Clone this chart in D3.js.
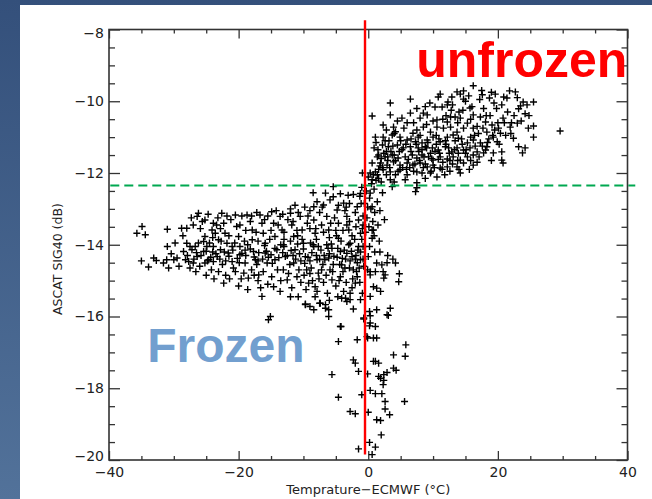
<!DOCTYPE html>
<html>
<head>
<meta charset="utf-8">
<script src="https://cdn.jsdelivr.net/npm/d3@7"></script>
<style>
  html, body { margin: 0; padding: 0; background: #fff; }
  #visualization { width: 652px; height: 499px; overflow: hidden; }
</style>
</head>
<body>
<div id="visualization"></div>
<script>
// axis ticks
const xTicks = [-40, -20, 0, 20, 40];
const xMinorTicks = [-35, -30, -25, -15, -10, -5, 5, 10, 15, 25, 30, 35];
const yTicks = [-20, -18, -16, -14, -12, -10, -8];
const yMinorTicks = [-19.5, -19, -18.5, -17.5, -17, -16.5, -15.5, -15, -14.5,
  -13.5, -13, -12.5, -11.5, -11, -10.5, -9.5, -9, -8.5];

// reference lines
const thawTemp = -0.5;          // red vertical line
const sigmaThreshold = -12.35;  // green dashed line

// [temperature, sigma40]
const warmPoints = [
  [16.2,-9.57],[14.7,-9.71],[13.7,-9.74],[14.2,-9.80],[11.1,-9.80],[10.8,-9.88],[12.9,-9.88],[17.6,-9.82],
  [18.7,-9.91],[19.6,-9.80],[20.9,-9.88],[21.8,-9.71],[22.7,-9.74],[21.4,-9.91],[14.7,-9.94],[6.5,-9.94],
  [12.3,-10.02],[12.2,-10.10],[11.4,-10.16],[10.3,-10.16],[3.4,-10.05],[23.9,-10.02],[25.5,-10.02],[23.5,-10.13],
  [24.5,-10.10],[23.2,-10.21],[15.7,-10.19],[24.2,-10.35],[0.6,-10.41],[3.4,-10.38],[6.5,-10.33],[5.2,-10.47],
  [8.5,-10.33],[9.1,-10.38],[8.0,-10.47],[10.6,-10.52],[12.7,-10.44],[13.4,-10.44],[14.2,-10.47],[12.2,-10.58],
  [16.2,-10.38],[17.3,-10.44],[18.1,-10.58],[20.8,-10.47],[19.1,-10.66],[21.9,-10.72],[23.0,-10.61],[24.7,-10.75],
  [25.5,-10.69],[29.6,-10.83],[25.5,-11.0],[22.4,-11.03],[20.4,-10.89],[19.3,-11.0],[18.3,-10.86],[16.2,-10.75],
  [15.3,-10.61],[14.7,-10.75],[13.7,-10.86],[12.7,-10.72],[11.6,-10.75],[10.6,-10.72],[9.6,-10.86],[8.5,-10.72],
  [7.5,-10.80],[6.9,-10.89],[2.3,-10.66],[3.9,-10.72],[1.1,-11.0],[2.3,-11.0],[3.7,-10.94],[4.9,-11.0],
  [6.0,-11.08],[7.3,-11.13],[8.3,-11.16],[9.1,-11.08],[10.0,-11.0],[11.1,-11.13],[12.2,-11.0],[13.1,-10.94],
  [13.9,-11.03],[15.3,-11.16],[16.2,-11.08],[17.3,-11.16],[18.3,-11.27],[19.9,-11.13],[23.2,-11.27],[23.8,-11.44],
  [24.2,-11.30],[2.2,-11.22],[3.1,-11.27],[4.5,-11.22],[5.4,-11.30],[6.5,-11.27],[7.7,-11.30],[8.8,-11.27],
  [9.9,-11.30],[10.8,-11.36],[11.9,-11.27],[12.9,-11.41],[13.7,-11.30],[14.7,-11.36],[15.7,-11.30],[16.8,-11.41],
  [18.1,-11.36],[19.3,-11.44],[20.6,-11.41],[1.6,-11.50],[2.6,-11.55],[3.7,-11.50],[4.6,-11.58],[5.7,-11.55],
  [6.8,-11.50],[7.5,-11.58],[8.3,-11.50],[9.3,-11.55],[10.0,-11.64],[11.1,-11.55],[12.2,-11.61],[13.1,-11.55],
  [14.2,-11.64],[15.3,-11.55],[16.2,-11.50],[17.8,-11.44],[0.6,-11.72],[1.9,-11.72],[2.9,-11.78],[3.9,-11.69],
  [4.9,-11.78],[6.0,-11.72],[6.9,-11.78],[8.0,-11.72],[9.1,-11.83],[10.0,-11.78],[11.1,-11.86],[12.2,-11.83],
  [13.7,-11.83],[14.7,-11.72],[16.2,-11.78],[20.6,-11.64],[20.8,-11.72],[1.1,-11.97],[2.3,-11.91],[3.4,-11.97],
  [4.9,-11.91],[7.5,-11.97],[8.3,-12.0],[9.6,-12.0],[10.6,-12.11],[14.2,-12.0],[-0.9,-12.0],[0.0,-12.11],
  [0.6,-12.19],[1.4,-12.05],[3.4,-12.19],[5.7,-12.19],[7.5,-12.27],[3.7,-12.38],[7.5,-12.41],[7.3,-12.52]
];

const warmCore = [
  [1.5,-11.35],[2.0,-11.60],[2.8,-11.40],[3.3,-11.85],[3.8,-11.25],[4.2,-11.65],[4.8,-11.40],[5.3,-11.85],
  [5.8,-11.20],[6.2,-11.62],[6.6,-11.40],[7.0,-11.95],[7.4,-11.20],[7.9,-11.65],[8.3,-11.35],[8.8,-11.75],
  [9.2,-11.15],[9.6,-11.45],[10.2,-11.85],[10.5,-11.20],[11.0,-11.45],[11.5,-11.70],[12.0,-11.20],[12.5,-11.45],
  [13.0,-11.75],[13.4,-11.10],[13.9,-11.45],[14.5,-11.20],[15.0,-11.45],[15.8,-11.00],[16.5,-11.25],[17.0,-10.90],
  [17.6,-11.25],[18.6,-11.05],[19.5,-10.80],[20.2,-11.20],[21.0,-10.60],[22.0,-10.90],[2.6,-11.10],[4.0,-10.90],
  [5.5,-10.75],[7.0,-10.60],[8.0,-10.95],[9.0,-10.65],[10.5,-10.95],[11.5,-10.50],[12.8,-10.25],[13.8,-10.60],
  [14.6,-10.25],[15.8,-10.50],[16.8,-10.70],[17.8,-10.20],[18.8,-10.40],[19.8,-10.20],[20.0,-10.60],[21.5,-10.30],
  [22.5,-10.40],[6.0,-12.05],[4.2,-12.05],[2.0,-12.25],[8.8,-12.15],[11.8,-12.05],[12.6,-11.95],[15.6,-11.90],
  [16.8,-11.70],[19.0,-11.65],[17.2,-9.95],[15.5,-9.85],[13.0,-10.10],[9.5,-10.05],[7.5,-10.20],[4.5,-10.55],
  [2.8,-10.80],[1.4,-11.55],[0.9,-11.30],[1.8,-11.80],[3.0,-11.65],[5.0,-11.10],[6.4,-11.85],[8.6,-11.55],
  [10.8,-11.62],[12.4,-11.30],[14.0,-11.90],[3.5,-11.40],[7.8,-11.40],[9.8,-11.60],
  [1.2,-11.15],[2.4,-11.45],[3.2,-11.10],[4.0,-11.50],[4.6,-11.95],[5.2,-11.35],[5.9,-11.90],[6.6,-11.05],
  [7.2,-11.75],[7.7,-11.00],[8.5,-11.85],[9.0,-11.30],[9.7,-11.95],[10.3,-11.40],[10.9,-11.05],[11.4,-11.90],
  [11.9,-11.10],[12.6,-11.65],[13.3,-11.35],[13.8,-11.65],[14.4,-11.05],[15.1,-11.35],[15.8,-11.65],[16.4,-10.95],
  [17.1,-11.55],[17.7,-10.75],[18.4,-11.15],[19.2,-10.95],[20.1,-10.75],[21.2,-10.95],[22.1,-10.60],[18.2,-10.40],
  [16.0,-10.15],[14.0,-10.30],[12.0,-10.40],[10.0,-10.55],[8.8,-10.15],[6.0,-10.60],[4.2,-10.85],[3.0,-11.55],
  [2.2,-11.85],[0.8,-12.05],[1.6,-12.15],[2.8,-12.05],[4.0,-12.25],[19.4,-10.05],[20.6,-10.10],[23.6,-10.55],
  [24.8,-10.40],[23.0,-9.90],[19.0,-9.75],[17.5,-9.70],[15.0,-10.00]
];

const coldPoints = [
  [-35.7,-13.68],[-34.9,-13.49],[-34.4,-13.72],[-35.0,-14.45],[-33.9,-14.62],[-33.1,-14.37],[-32.7,-14.44],[-31.6,-14.51],
  [-31.1,-14.42],[-30.8,-14.65],[-31.0,-14.05],[-31.0,-13.57],[-30.0,-14.42],[-29.5,-14.37],[-28.8,-13.54],[-28.0,-13.54],
  [-28.5,-14.19],[-28.0,-13.96],[-27.5,-14.05],[-27.2,-14.14],[-26.7,-14.05],[-28.2,-14.42],[-27.7,-14.47],[-27.5,-14.65],
  [-27.0,-14.51],[-26.4,-14.33],[-26.2,-13.12],[-26.4,-13.21],[-25.2,-13.31],[-25.2,-13.77],[-25.4,-13.91],[-24.9,-14.05],
  [-25.4,-14.19],[-24.6,-14.42],[-25.2,-14.51],[-24.1,-13.59],[-23.9,-13.40],[-23.4,-13.45],[-23.6,-13.68],[-23.1,-13.86],
  [-22.8,-14.14],[-23.3,-14.33],[-23.9,-14.47],[-22.6,-13.12],[-22.3,-13.40],[-22.1,-13.68],[-21.8,-13.96],[-21.6,-14.23],
  [-23.1,-14.75],[-22.3,-15.07],[-21.0,-14.47],[-20.8,-14.65],[-20.5,-13.17],[-20.3,-13.49],[-20.0,-13.77],[-19.8,-14.05],
  [-19.8,-14.28],[-19.2,-14.79],[-19.0,-14.51],[-18.5,-14.93],[-18.7,-13.17],[-18.2,-13.35],[-17.9,-13.59],[-17.9,-13.86],
  [-17.7,-14.19],[-17.4,-14.42],[-16.9,-14.84],[-16.7,-13.17],[-16.4,-13.40],[-16.2,-13.68],[-15.9,-13.96],[-15.9,-14.23],
  [-15.6,-14.51],[-14.9,-13.08],[-14.6,-13.40],[-14.4,-13.77],[-14.1,-14.14],[-14.4,-14.42],[-14.9,-14.89],[-14.6,-15.17],
  [-16.4,-15.44],[-15.1,-16.0],[-15.4,-16.09],[-13.6,-13.21],[-13.3,-13.59],[-13.1,-14.0],[-12.8,-14.33],[-13.1,-14.70],
  [-12.5,-14.98],[-12.0,-13.12],[-11.8,-13.45],[-11.5,-13.77],[-11.3,-14.14],[-11.5,-14.51],[-11.0,-14.89],[-10.5,-13.21],
  [-10.2,-13.59],[-10.0,-13.96],[-9.7,-14.33],[-9.5,-14.70],[-9.2,-15.07],[-9.7,-15.67],[-9.0,-15.72],[-8.4,-12.94],
  [-8.4,-13.31],[-8.2,-13.68],[-8.4,-14.05],[-7.9,-14.42],[-7.7,-14.79],[-8.2,-15.17],[-7.4,-15.63],[-6.6,-15.77],
  [-6.1,-16.0],[-6.6,-12.56],[-5.4,-12.38],[-6.9,-12.89],[-6.4,-13.21],[-6.1,-13.59],[-6.4,-14.0],[-6.1,-14.37],
  [-5.9,-14.70],[-5.6,-14.98],[-5.4,-12.66],[-4.8,-13.03],[-4.6,-13.40],[-4.6,-13.82],[-4.3,-14.19],[-4.1,-14.56],
  [-4.3,-14.89],[-3.8,-15.30],[-3.5,-15.49],[-2.8,-15.35],[-3.8,-12.84],[-3.3,-13.21],[-3.0,-13.59],[-2.8,-13.96],
  [-2.5,-14.33],[-2.3,-14.70],[-2.0,-15.07],[-1.7,-12.94],[-1.5,-13.31],[-1.2,-13.68],[-1.5,-14.05],[-1.2,-14.42],
  [-1.7,-14.89],[0.3,-12.56],[0.6,-12.94],[0.8,-13.59],[0.6,-13.82],[0.0,-14.33],[0.3,-14.75],[-8.5,-12.55],
  [-4.3,-12.58],[-3.1,-12.62],[-1.2,-12.57]
];

const coldCore = [
  [-26.5,-14.22],[-25.8,-14.30],[-25.0,-14.18],[-24.3,-14.35],[-23.5,-14.25],[-22.9,-14.40],[-22.2,-14.20],[-21.5,-14.32],
  [-20.9,-14.15],[-20.2,-14.38],[-19.5,-14.24],[-18.9,-14.30],[-18.2,-14.12],[-17.6,-14.34],[-16.9,-14.22],[-16.3,-14.40],
  [-15.7,-14.18],[-15.0,-14.28],[-14.4,-14.10],[-13.8,-14.36],[-13.2,-14.22],[-12.5,-14.30],[-11.9,-14.16],[-11.2,-14.40],
  [-10.6,-14.25],[-10.0,-14.12],[-9.3,-14.35],[-8.7,-14.22],[-8.0,-14.30],[-7.3,-14.15],[-6.7,-14.42],[-6.0,-14.25],
  [-5.3,-14.32],[-4.7,-14.10],[-4.0,-14.38],[-3.3,-14.24],[-2.6,-14.18],[-1.9,-14.30],[-1.2,-14.20],
  [-24.8,-14.45],[-23.9,-14.05],[-22.5,-14.55],[-21.0,-14.05],[-19.9,-14.50],[-18.6,-14.00],[-17.2,-14.55],[-16.0,-14.02],
  [-14.8,-14.52],[-13.5,-14.00],[-12.1,-14.55],[-10.9,-13.98],[-9.8,-14.52],[-8.5,-14.00],[-7.0,-14.55],[-5.7,-13.98],
  [-4.4,-14.55],[-3.0,-14.00],[-1.7,-14.50],[-0.8,-14.05],
  [-27.3,-13.25],[-25.9,-13.55],[-24.7,-13.15],[-24.0,-13.80],[-22.8,-13.55],[-21.2,-13.30],[-21.5,-13.75],[-19.8,-13.45],
  [-19.1,-13.90],[-18.0,-13.20],[-17.3,-13.65],[-16.0,-13.30],[-15.2,-13.85],[-13.9,-13.45],[-13.0,-13.85],[-12.4,-13.30],
  [-11.0,-13.60],[-10.2,-13.85],[-9.3,-13.20],[-9.0,-13.55],[-8.0,-13.85],[-7.5,-13.10],[-7.2,-13.45],[-6.0,-13.80],
  [-5.2,-13.25],[-5.0,-13.60],[-4.2,-13.90],[-3.6,-13.05],[-3.3,-13.45],[-2.5,-13.75],[-2.0,-13.10],[-1.9,-13.50],
  [-1.0,-13.85],[-0.8,-13.20],[-12.0,-13.00],[-10.8,-13.10],[-9.8,-12.95],[-7.9,-12.80],[-5.9,-12.75],[-4.6,-12.90],
  [-2.9,-12.85],
  [-26.0,-14.60],[-24.2,-14.70],[-22.0,-14.85],[-20.5,-14.75],[-19.6,-14.95],[-18.0,-14.70],[-17.0,-15.00],[-16.2,-14.75],
  [-15.5,-15.10],[-14.0,-14.70],[-13.5,-15.00],[-12.3,-14.80],[-11.8,-15.20],[-10.7,-14.70],[-10.4,-15.05],[-9.6,-15.25],
  [-9.0,-14.80],[-8.6,-15.00],[-7.9,-15.30],[-7.2,-14.70],[-6.9,-15.05],[-6.3,-15.35],[-5.5,-14.75],[-5.0,-15.15],
  [-4.7,-15.45],[-3.9,-14.75],[-3.4,-15.05],[-2.9,-14.65],[-2.5,-15.20],[-1.8,-14.75],[-1.3,-15.05],[-0.9,-15.35],
  [-0.7,-14.60],
  [-11.6,-13.35],[-10.9,-13.75],[-10.4,-14.45],[-9.9,-14.85],[-9.4,-13.40],[-8.9,-13.95],[-8.8,-14.65],[-8.1,-13.55],
  [-7.7,-14.05],[-7.6,-14.95],[-6.9,-13.65],[-6.8,-14.30],[-6.5,-14.85],[-5.8,-13.40],[-5.6,-14.10],[-5.4,-14.55],
  [-4.9,-13.75],[-4.8,-14.35],[-4.5,-15.00],[-3.9,-13.60],[-3.7,-14.15],[-3.6,-14.65],[-2.9,-13.35],[-2.8,-14.45],
  [-2.4,-14.95],[-2.1,-13.85],[-1.6,-14.15],[-1.4,-14.65],[-0.9,-13.55],[-0.8,-14.40],[-1.1,-12.85],[-2.3,-12.60],
  [-3.4,-12.95],[-7.1,-12.95],[-9.0,-13.05],[-11.3,-12.90],[-13.2,-13.15],[-14.2,-13.05],[-15.5,-13.20],[-17.2,-13.10],
  [-19.5,-13.20],[-21.8,-13.20],[-23.2,-13.25],[-25.6,-13.35],[-27.0,-13.45],[-28.6,-13.75],[-29.8,-13.95],[-30.4,-14.25],
  [-29.2,-14.60],[-26.6,-14.75],[-25.0,-14.85],[-23.8,-14.95],[-21.4,-14.95],[-20.0,-15.15],[-18.6,-15.25],[-17.6,-14.85],
  [-16.6,-15.20],[-13.6,-15.30],[-12.0,-15.45],[-10.8,-15.45],[-8.2,-15.45],[-6.0,-15.55],[-24.5,-13.95],[-22.7,-13.90],
  [-20.6,-13.95],[-18.9,-13.60],[-17.0,-13.90],[-15.0,-13.60],[-13.0,-13.65],[-12.0,-13.90],[-26.2,-13.95],[-27.9,-14.30],
  [-26.9,-14.40],[-24.0,-14.20],[-22.0,-14.45],[-19.0,-14.15],[-17.0,-14.45],[-15.4,-14.35],[-13.0,-14.05],[-11.6,-14.30],
  [-9.0,-14.45],[-7.5,-14.40],[-6.2,-14.10],[-3.5,-14.40],[-2.0,-14.40]
];

// points hugging the 0 °C line
const thawEdge = [
  [-1.0,-12.40],[-0.3,-12.50],[0.2,-12.70],[0.9,-12.45],[1.4,-12.80],[-0.6,-12.85],[0.4,-13.00],[1.0,-13.10],
  [-0.2,-13.25],[0.7,-13.35],[1.5,-13.45],[0.1,-13.50],[-0.4,-13.65],[0.9,-13.75],[1.8,-13.05],[2.2,-12.55],
  [-1.3,-12.65],[0.5,-12.30],[1.2,-12.20],[-0.1,-12.95],[0.6,-13.60],[1.7,-13.90],[0.2,-14.05],[1.0,-14.20],
  [2.5,-13.30],[-0.8,-13.45],[0.3,-12.00],[1.6,-11.90],[1.8,-14.20],[3.0,-14.30],[3.8,-14.40],[2.3,-14.75]
];

const tailPoints = [
  [-0.7,-16.04],[0.3,-16.18],[1.1,-16.28],[-4.3,-16.28],[-4.6,-16.70],[-1.7,-16.65],[-0.2,-16.56],[0.8,-16.60],
  [-2.3,-17.21],[-2.0,-17.30],[-1.5,-17.53],[0.8,-17.25],[-5.6,-17.62],[-9.7,-15.65],[-8.4,-15.81],[-7.5,-15.63],
  [-6.6,-15.67],[-6.1,-15.81],[-4.2,-16.28],[-1.0,-18.18],[-4.6,-18.25],[-2.8,-18.65],[-2.0,-18.71],[-1.5,-19.69],
  [0.2,-19.51],[1.1,-19.64],[0.6,-19.85],[2.0,-19.30],[1.3,-18.88],[1.9,-18.90],[3.3,-18.74],[2.6,-18.58],
  [0.0,-18.67],[5.6,-18.37],[2.6,-18.37],[2.1,-18.15],[1.1,-18.15],[0.3,-18.06],[2.3,-17.90],[2.4,-17.78],
  [1.9,-17.72],[2.4,-17.62],[2.9,-17.56],[3.9,-17.44],[4.3,-17.50],[1.6,-17.67],[1.1,-17.25],[1.6,-17.30],
  [3.9,-17.07],[5.7,-17.11],[5.8,-16.79],[-0.1,-17.60],[-0.1,-16.60],[1.3,-16.60],[0.2,-16.26],[0.3,-15.98],
  [-0.7,-16.07],[1.3,-15.81],[2.9,-15.95],[3.4,-15.77],[3.1,-15.97],[0.2,-15.86],[-2.3,-15.79],[-3.3,-15.58],
  [-4.1,-15.49],[-2.8,-15.53],[-1.2,-15.53],[0.3,-15.44],[1.9,-15.30],[0.8,-15.17],[1.3,-15.21],[2.4,-14.93],
  [2.6,-14.84],[4.7,-15.03],[4.8,-14.81],[4.2,-14.51],[2.9,-14.50],[2.1,-14.56],[1.3,-14.51],[1.1,-14.75],
  [0.3,-14.84],[-0.1,-14.70]
];

function showScatter() {
  const W = 652, H = 499;
  const plot = { left: 109, right: 627.5, top: 29.5, bottom: 460 };

  const svg = d3.select('#visualization')
    .append('svg')
    .attr('width', W)
    .attr('height', H)
    .style('display', 'block');

  // slide background
  const grad = svg.append('defs').append('linearGradient')
    .attr('id', 'bg').attr('x1', 0).attr('y1', 0).attr('x2', 0).attr('y2', 1);
  grad.append('stop').attr('offset', '0%').attr('stop-color', '#34507b');
  grad.append('stop').attr('offset', '100%').attr('stop-color', '#52729a');
  svg.append('rect').attr('width', W).attr('height', H).attr('fill', 'url(#bg)');
  svg.append('rect').attr('x', 20).attr('y', 5).attr('width', W - 20).attr('height', H - 5).attr('fill', '#fff');

  const x = d3.scaleLinear().domain([-40, 40]).range([plot.left, plot.right]);
  const y = d3.scaleLinear().domain([-20, -8]).range([plot.bottom, plot.top]);

  const axisColor = '#333';
  const tickFont = '"DejaVu Sans", sans-serif';

  function styleAxis(g) {
    g.select('.domain').remove();
    g.selectAll('line').attr('stroke', axisColor).attr('stroke-width', 1.3);
    g.selectAll('text').attr('fill', '#222').style('font-family', tickFont).style('font-size', '14px');
  }

  // bottom / top
  svg.append('g').attr('transform', `translate(0,${plot.bottom})`)
    .call(d3.axisBottom(x).tickValues(xTicks).tickSize(-9).tickPadding(7))
    .call(styleAxis);
  svg.append('g').attr('transform', `translate(0,${plot.bottom})`)
    .call(d3.axisBottom(x).tickValues(xMinorTicks).tickSize(-4).tickFormat(''))
    .call(styleAxis);
  svg.append('g').attr('transform', `translate(0,${plot.top})`)
    .call(d3.axisTop(x).tickValues(xTicks).tickSize(-9).tickFormat(''))
    .call(styleAxis);
  svg.append('g').attr('transform', `translate(0,${plot.top})`)
    .call(d3.axisTop(x).tickValues(xMinorTicks).tickSize(-4).tickFormat(''))
    .call(styleAxis);

  // left / right
  const yAxisG = svg.append('g').attr('transform', `translate(${plot.left},0)`)
    .call(d3.axisLeft(y).tickValues(yTicks).tickSize(-11).tickPadding(5))
    .call(styleAxis);
  // end labels sit a little inside the axis range, as in the original
  yAxisG.selectAll('.tick text')
    .attr('dy', d => d === -20 ? '0.05em' : d === -8 ? '0.6em' : '0.32em');
  svg.append('g').attr('transform', `translate(${plot.left},0)`)
    .call(d3.axisLeft(y).tickValues(yMinorTicks).tickSize(-6).tickFormat(''))
    .call(styleAxis);
  svg.append('g').attr('transform', `translate(${plot.right},0)`)
    .call(d3.axisRight(y).tickValues(yTicks).tickSize(-11).tickFormat(''))
    .call(styleAxis);
  svg.append('g').attr('transform', `translate(${plot.right},0)`)
    .call(d3.axisRight(y).tickValues(yMinorTicks).tickSize(-6).tickFormat(''))
    .call(styleAxis);

  // frame
  svg.append('rect')
    .attr('x', plot.left).attr('y', plot.top)
    .attr('width', plot.right - plot.left).attr('height', plot.bottom - plot.top)
    .attr('fill', 'none').attr('stroke', axisColor).attr('stroke-width', 1.6);

  // axis titles
  svg.append('text')
    .attr('x', x(0)).attr('y', 494)
    .attr('text-anchor', 'middle')
    .style('font-family', tickFont).style('font-size', '13px').attr('fill', '#222')
    .text('Temprature\u2212ECMWF (°C)');
  svg.append('text')
    .attr('transform', `translate(62,${y(-14.4)}) rotate(-90)`)
    .attr('text-anchor', 'middle')
    .style('font-family', tickFont).style('font-size', '12.5px').attr('fill', '#222')
    .text('ASCAT SIG40 (dB)');

  // scatter of "+" markers
  const allPoints = warmPoints.concat(warmCore, coldPoints, coldCore, thawEdge, tailPoints);
  svg.append('g')
    .selectAll('path')
    .data(allPoints)
    .enter()
    .append('path')
    .attr('transform', d => `translate(${x(d[0])},${y(d[1])})`)
    .attr('d', 'M-3.5,0H3.5M0,-3.5V3.5')
    .attr('stroke', '#000')
    .attr('stroke-width', 1.4)
    .attr('fill', 'none');

  // threshold lines
  svg.append('line')
    .attr('x1', x(-39.8)).attr('x2', x(41.2))
    .attr('y1', y(sigmaThreshold)).attr('y2', y(sigmaThreshold))
    .attr('stroke', '#00a850').attr('stroke-width', 2)
    .attr('stroke-dasharray', '9,5');
  svg.append('line')
    .attr('x1', x(thawTemp)).attr('x2', x(thawTemp))
    .attr('y1', y(-7.74)).attr('y2', y(-19.85))
    .attr('stroke', '#ff0000').attr('stroke-width', 2.4);

  // state labels
  svg.append('text')
    .attr('x', x(7.4)).attr('y', y(-9.33))
    .style('font-family', '"Liberation Sans", Arial, sans-serif')
    .style('font-weight', 'bold').style('font-size', '50px')
    .attr('fill', '#ff0000')
    .text('unfrozen');
  svg.append('text')
    .attr('x', x(-34.1)).attr('y', y(-17.27))
    .style('font-family', '"Liberation Sans", Arial, sans-serif')
    .style('font-weight', 'bold').style('font-size', '48px')
    .attr('fill', '#729fcf')
    .text('Frozen');
}

showScatter();
</script>
</body>
</html>
